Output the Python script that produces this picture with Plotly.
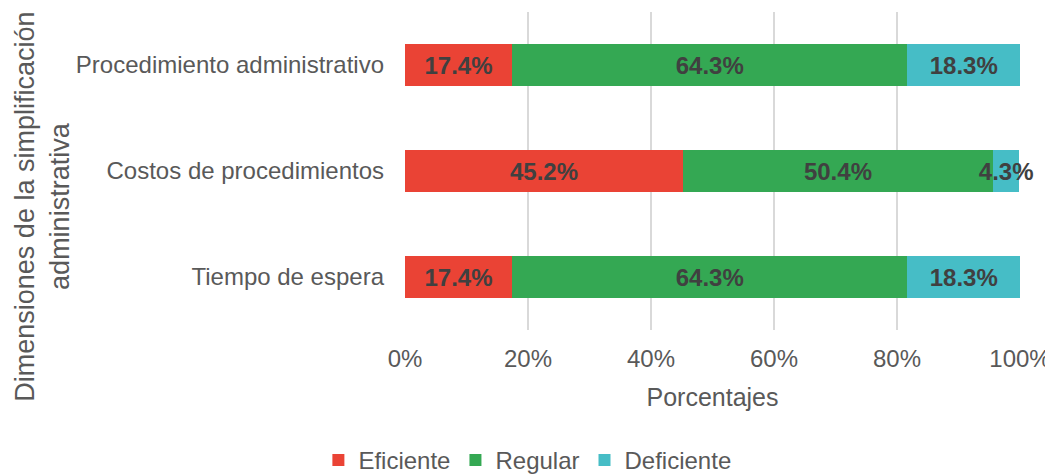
import plotly.graph_objects as go

categories = ["Tiempo de espera", "Costos de procedimientos", "Procedimiento administrativo"]
eficiente = [17.4, 45.2, 17.4]
regular = [64.3, 50.4, 64.3]
deficiente = [18.3, 4.3, 18.3]
series_names = ["Eficiente", "Regular", "Deficiente"]
colors = ["#EA4335", "#34A853", "#46BDC6"]
tick_vals = [0, 20, 40, 60, 80, 100]
tick_text = ["0%", "20%", "40%", "60%", "80%", "100%"]

fig = go.Figure()
for name, vals, col in zip(series_names, [eficiente, regular, deficiente], colors):
    fig.add_trace(go.Bar(
        y=categories, x=vals, name=name, orientation="h",
        marker=dict(color=col, line=dict(width=0)),
        text=[f"{v:.1f}%" for v in vals],
        textposition="inside", insidetextanchor="middle",
        constraintext="none", textangle=0,
        textfont=dict(family="Liberation Sans, Arial", size=24,
                      color="#404040", weight="bold"),
        cliponaxis=False,
    ))

fig.update_layout(
    barmode="stack",
    bargap=0.6,
    width=1045, height=468,
    margin=dict(l=397, r=33, t=4, b=146, autoexpand=False),
    plot_bgcolor="white", paper_bgcolor="white",
    font=dict(family="Liberation Sans, Arial", size=24, color="#595959"),
    xaxis=dict(
        range=[0, 100], tickvals=tick_vals, ticktext=tick_text,
        showgrid=True, gridcolor="#D9D9D9", gridwidth=1.5,
        zeroline=False, showline=False, automargin=False,
        tickfont=dict(size=24, color="#595959"),
        title=dict(text="Porcentajes", font=dict(size=25, color="#595959"), standoff=17),
        ticks="", ticklabelstandoff=12,
    ),
    yaxis=dict(
        showgrid=False, zeroline=False, showline=False, automargin=False,
        tickfont=dict(size=24, color="#595959"), ticks="", ticklabelstandoff=20,
        range=[-0.5, 2.5],
    ),
    legend=dict(
        orientation="h", x=0.199, xanchor="center", y=-0.41, yanchor="middle",
        font=dict(size=24, color="#595959"), traceorder="normal",
        itemwidth=30,
    ),
    showlegend=True,
)

fig.add_annotation(
    text="Dimensiones de la simplificación<br>administrativa",
    xref="paper", yref="paper", x=-0.589, y=0.387,
    xanchor="center", yanchor="middle",
    textangle=-90, showarrow=False,
    font=dict(size=27, color="#595959"), align="center",
)

fig.write_html("out.html")
